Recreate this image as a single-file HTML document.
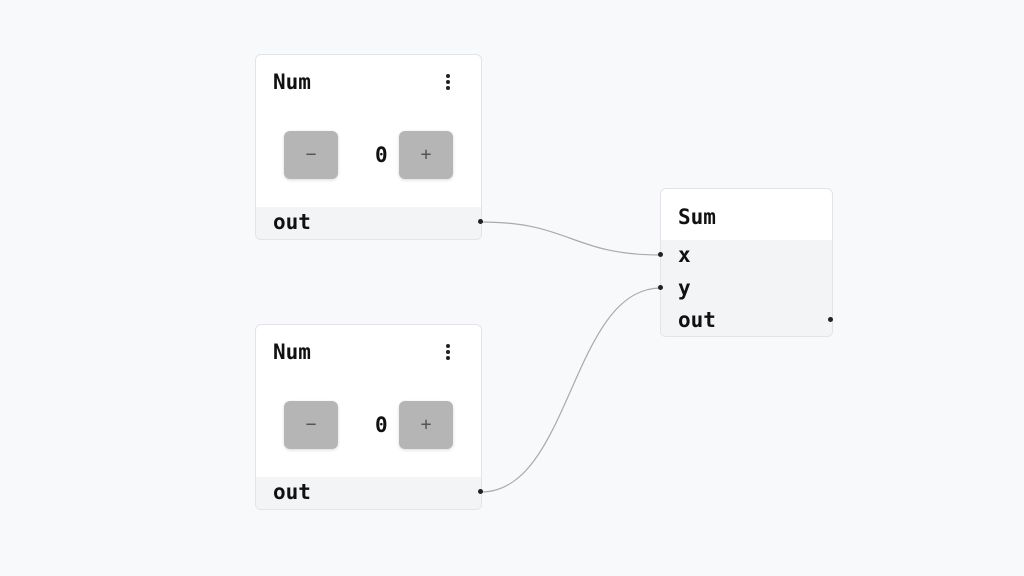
<!DOCTYPE html>
<html><head><style>
body{margin:0;width:1024px;height:576px;background:#f8f9fb;position:relative;overflow:hidden;font-family:"DejaVu Sans Mono","Liberation Mono",monospace;font-weight:bold;color:#111}
.node{position:absolute;background:#fff;border:1px solid #e2e4e8;border-radius:6px;box-sizing:border-box;overflow:hidden}
.t{position:absolute;font-size:21px;line-height:24px}
.foot{position:absolute;left:0;right:0;background:#f3f4f6}
.btn{position:absolute;width:54px;height:48px;background:#b5b5b5;border-radius:6px;box-shadow:0 1px 3px rgba(0,0,0,.15);color:#555;font-size:18px;line-height:48px;text-align:center;font-weight:normal}
.dots{position:absolute;width:4px}
.dots i{display:block;width:4px;height:4px;border-radius:2px;background:#222;margin-bottom:2px}
.dot{position:absolute;width:5px;height:5px;border-radius:3px;background:#222}
</style></head><body>
<svg width="1024" height="576" style="position:absolute;left:0;top:0">
<path d="M481 222 C571 222,571 255,661 255" stroke="#aaa" stroke-width="1.2" fill="none"/>
<path d="M481 492 C571 492,571 288,661 288" stroke="#aaa" stroke-width="1.2" fill="none"/>
</svg>

<div class="node" style="left:255px;top:54px;width:227px;height:186px">
<div class="t" style="left:17px;top:15px">Num</div>
<div class="dots" style="left:190px;top:19px"><i></i><i></i><i></i></div>
<div class="btn" style="left:28px;top:76px">−</div>
<div class="t" style="left:119px;top:88px">0</div>
<div class="btn" style="left:143px;top:76px">+</div>
<div class="foot" style="top:152px;height:34px"></div>
<div class="t" style="left:17px;top:155px">out</div>
</div>

<div class="node" style="left:255px;top:324px;width:227px;height:186px">
<div class="t" style="left:17px;top:15px">Num</div>
<div class="dots" style="left:190px;top:19px"><i></i><i></i><i></i></div>
<div class="btn" style="left:28px;top:76px">−</div>
<div class="t" style="left:119px;top:88px">0</div>
<div class="btn" style="left:143px;top:76px">+</div>
<div class="foot" style="top:152px;height:34px"></div>
<div class="t" style="left:17px;top:155px">out</div>
</div>

<div class="node" style="left:660px;top:188px;width:173px;height:149px">
<div class="t" style="left:17px;top:16px">Sum</div>
<div class="foot" style="top:51px;height:98px"></div>
<div class="t" style="left:17px;top:54px">x</div>
<div class="t" style="left:17px;top:87px">y</div>
<div class="t" style="left:17px;top:119px">out</div>
</div>

<div class="dot" style="left:478px;top:219px"></div>
<div class="dot" style="left:478px;top:489px"></div>
<div class="dot" style="left:658px;top:252px"></div>
<div class="dot" style="left:658px;top:285px"></div>
<div class="dot" style="left:828px;top:317px"></div>
</body></html>
